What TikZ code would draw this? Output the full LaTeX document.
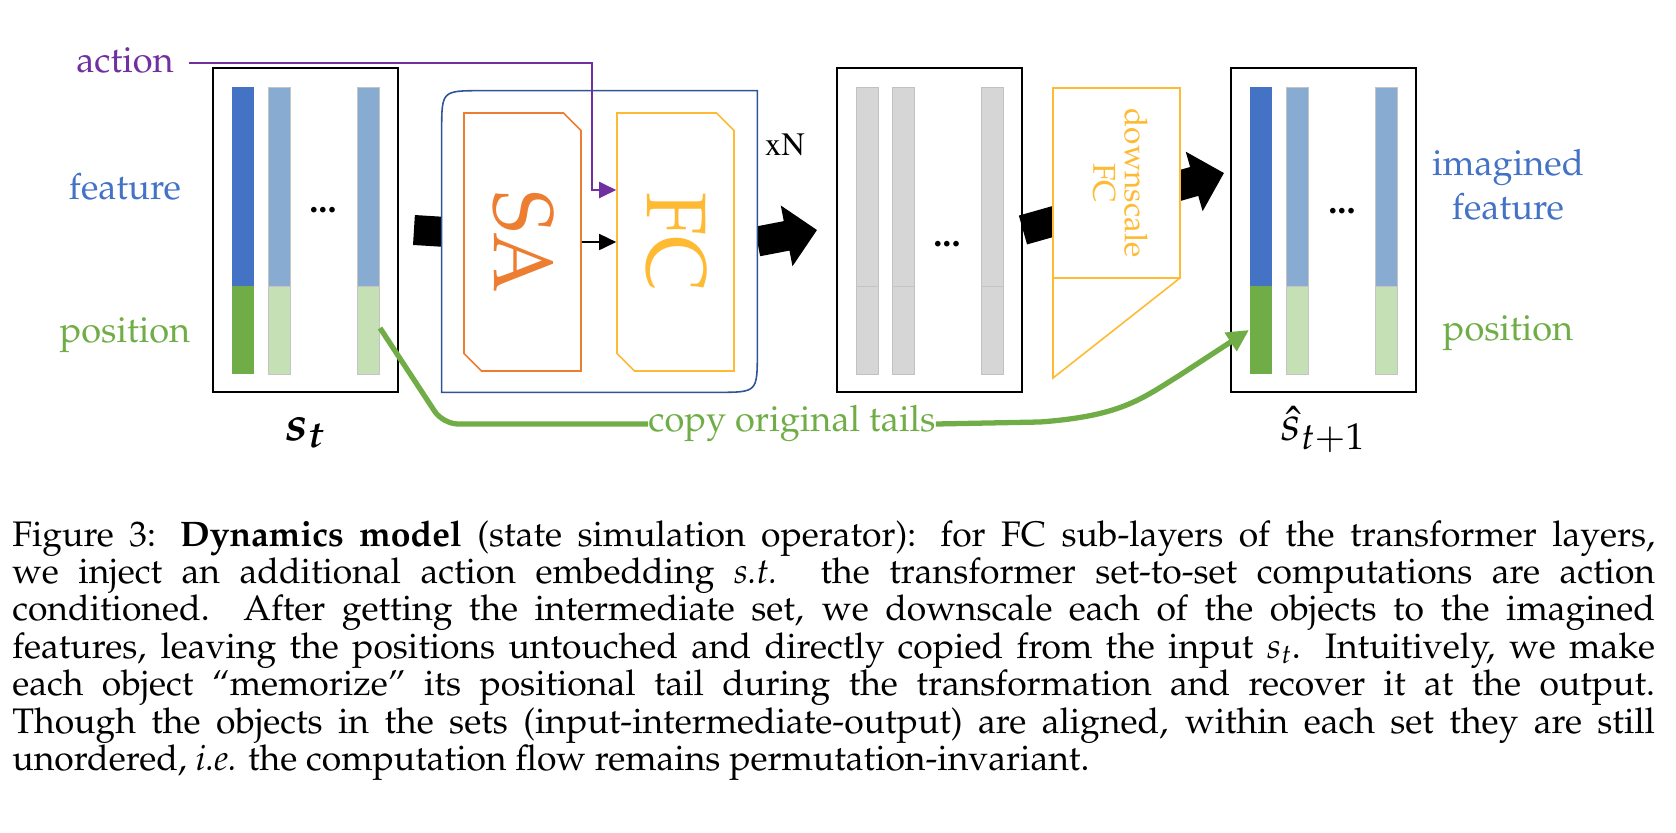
\documentclass[tikz,border=0pt]{standalone}
\usepackage[T1]{fontenc}
\usepackage{mathpazo}
\usepackage{amsmath}
\usepackage{graphicx}
\usetikzlibrary{arrows.meta, positioning, calc, shapes.misc}

\definecolor{actpurple}{HTML}{7030A0}
\definecolor{featblue}{HTML}{4472C4}
\definecolor{featlight}{HTML}{88ACD1}
\definecolor{posgreen}{HTML}{70AD47}
\definecolor{poslight}{HTML}{C5E0B4}
\definecolor{layerblue}{HTML}{2F5597}
\definecolor{saorange}{HTML}{ED7D31}
\definecolor{fcyellow}{HTML}{FFBA33}
\definecolor{midgray}{HTML}{D6D6D6}
\definecolor{bargray}{HTML}{C4C4C4}

\begin{document}
\begin{tikzpicture}[x=0.02cm, y=-0.02cm,
  labeltext/.style={font=\fontsize{20.6}{25}\selectfont, inner sep=0},
  setbox/.style={draw=black, line width=1.1pt, fill=white, minimum width=3.7cm, minimum height=6.48cm, inner sep=0},
  bigarrow/.style={line width=0.6cm, -{Triangle[length=0.62cm, width=1.2cm]}},
  smallarrow/.style={line width=0.9pt, -{Triangle[length=0.34cm, width=0.32cm]}},
  cutbox/.style={chamfered rectangle, chamfered rectangle corners={north east, south west}, chamfered rectangle xsep=0.24cm, line width=0.9pt, fill=white, minimum width=2.34cm, minimum height=5.16cm, inner sep=0, font=\fontsize{48}{48}\selectfont},
  copyline/.style={draw=posgreen, line width=3pt, line join=round}
]
\useasboundingbox (0,0) rectangle (1676,832);

% the three sets
\node[setbox] (st) at (305.5,230) {};
\node[setbox] (mid) at (929.5,230) {};
\node[setbox] (next) at (1323.5,230) {};

\foreach \bx in {213,1231}{
  \fill[featblue] (\bx+19,87) rectangle (\bx+41,286);
  \fill[posgreen] (\bx+19,286) rectangle (\bx+41,374);
  \foreach \dx in {55,144}{
    \filldraw[fill=featlight, draw=bargray, line width=0.4pt] (\bx+\dx,87) rectangle (\bx+\dx+22,286);
    \filldraw[fill=poslight, draw=bargray, line width=0.4pt] (\bx+\dx,286) rectangle (\bx+\dx+22,374);
  }
}
\foreach \dx in {19,55,144}{
  \filldraw[fill=midgray, draw=midgray!90!black, line width=0.4pt] (837+\dx,87) rectangle (837+\dx+22,374);
  \draw[bargray, line width=0.5pt] (837+\dx,286) -- (837+\dx+22,286);
}
\node[labeltext, anchor=base] (dots1) at (323,212) {\textbf{...}};
\node[labeltext, anchor=base] (dots2) at (947,246) {\textbf{...}};
\node[labeltext, anchor=base] (dots3) at (1342,213) {\textbf{...}};

% transformer layer
\node[minimum width=6.3cm, minimum height=6.02cm, inner sep=0] (layer) at (599.5,241.5) {};
\coordinate (dshead) at (1224,173);

\draw[bigarrow] ($(st.east)+(15,0)$) -- (layer.center);
\draw[bigarrow] (layer.east) -- ($(mid.west)+(-19,0)$);
\draw[bigarrow] (mid.east) -- (dshead);

\filldraw[draw=layerblue, fill=white, line width=0.9pt] (layer.south west) -- ($(layer.north west)+(0,40)$) .. controls (layer.north west) .. ($(layer.north west)+(40,0)$) -- (layer.north east) -- ($(layer.south east)+(0,-40)$) .. controls (layer.south east) .. ($(layer.south east)+(-40,0)$) -- cycle;

\node[cutbox, draw=saorange, text=saorange] (sa) at (522.5,242) {\rotatebox{-90}{\scalebox{0.92}[1]{SA}}};
\node[cutbox, draw=fcyellow, text=fcyellow] (fc) at (675.5,242) {\rotatebox{-90}{\scalebox{0.92}[1]{FC}}};
\draw[smallarrow] (sa) -- (fc);

\node[font=\fontsize{18.6}{20}\selectfont\fontfamily{ptm}\selectfont, inner sep=0] (xn) at (785,145) {xN};

% downscale FC
\filldraw[draw=fcyellow, fill=white, line width=0.9pt] (1053,278) -- (1053,378) -- (1180,278);
\node[draw=fcyellow, fill=white, line width=0.9pt, minimum width=2.54cm, minimum height=3.8cm, inner sep=0, text=fcyellow, font=\fontsize{18}{21}\selectfont] (down) at (1116.5,183) {\rotatebox{-90}{\begin{tabular}{@{}c@{}}downscale\\[-3pt]FC\end{tabular}}};

% labels
\node[labeltext, text=actpurple, anchor=base] (action) at (125,72) {action};
\node[labeltext, text=featblue, anchor=base] (feat) at (125,199) {feature};
\node[labeltext, text=posgreen, anchor=base] (pos) at (125,342) {position};
\node[labeltext, text=featblue, anchor=north, align=center] (imfeat) at (1508,149) {imagined\\feature};
\node[labeltext, text=posgreen, anchor=base] (pos2) at (1508,340) {position};
\node[anchor=base, inner sep=0, font=\fontsize{28}{28}\selectfont] (stlabel) at (305,440) {$\boldsymbol{s_t}$};
\node[anchor=base, inner sep=0, font=\fontsize{28}{28}\selectfont] (nextlabel) at (1323,440) {$\hat{s}_{t+1}$};

\draw[actpurple, line width=1.1pt, -{Triangle[length=0.34cm, width=0.32cm]}] (action.east) ++(15,3) -| ($(fc.west)+(-24,-52)$) -- ($(fc.west)+(0,-52)$);

% copied position tails
\coordinate (tail) at (380,328);
\coordinate (head) at (1249,330);
\node[labeltext, text=posgreen] (copy) at (792,424) {copy original tails};
\draw[copyline, rounded corners=0.3cm] (tail) -- (443,424) -- (copy.west);
\draw[copyline, -{Triangle[length=0.44cm, width=0.42cm]}] (copy.east) -- (1040,422) .. controls (1120,416) and (1140,400) .. (1180,375) -- (head);

% caption
\node[anchor=north west, text width=32.86cm, align=justify, inner sep=0, font=\fontsize{20.2}{18.6}\selectfont] (caption) at (12,520) {\hyphenpenalty=10000\tolerance=10000\lineskiplimit=-100pt
Figure 3: \textbf{Dynamics model} (state simulation operator): for FC sub-layers of the transformer layers,\linebreak
we inject an additional action embedding \textit{s.t.} the transformer set-to-set computations are action\linebreak
conditioned. After getting the intermediate set, we downscale each of the objects to the imagined\linebreak
features, leaving the positions untouched and directly copied from the input $s_t$. Intuitively, we make\linebreak
each object ``memorize'' its positional tail during the transformation and recover it at the output.\linebreak
Though the objects in the sets (input-intermediate-output) are aligned, within each set they are still\linebreak
unordered, \textit{i.e.} the computation flow remains permutation-invariant.};
\end{tikzpicture}
\end{document}
